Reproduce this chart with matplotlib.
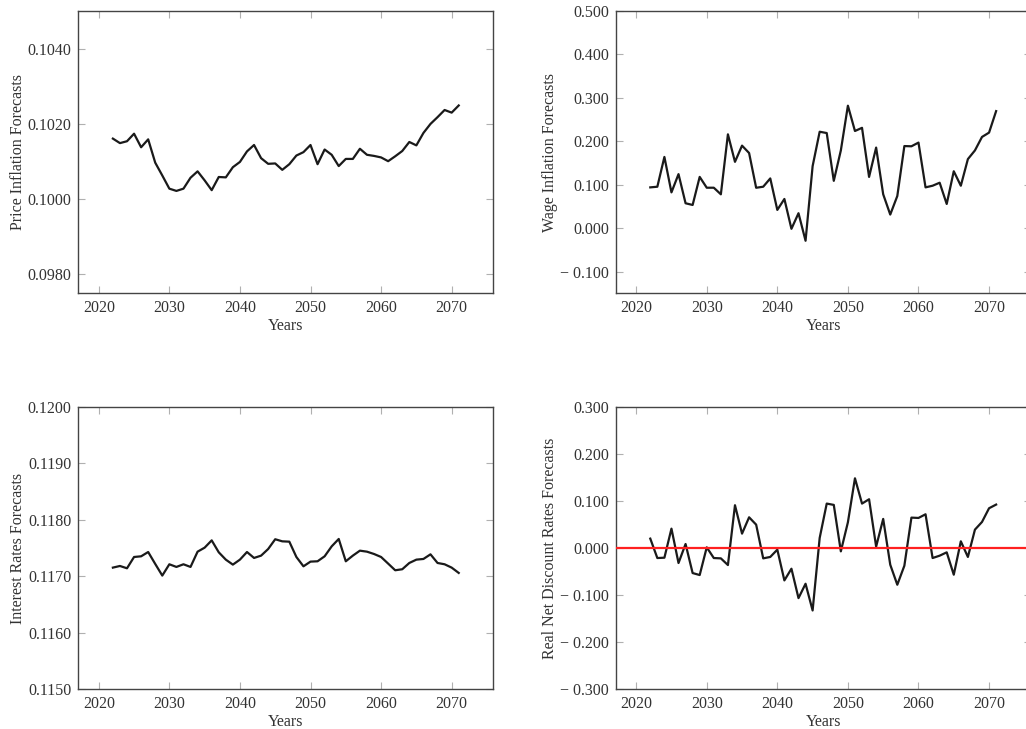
import matplotlib
matplotlib.use("Agg")
import matplotlib.pyplot as plt
from matplotlib.ticker import FuncFormatter

plt.rcParams['font.family'] = ['Liberation Serif', 'DejaVu Serif']
plt.rcParams['font.size'] = 11.5

# forecast years
years = list(range(2022, 2072))

price_inflation = [
    0.10161, 0.10149, 0.10154, 0.10174, 0.10138, 0.10159, 0.10097, 0.10063, 0.10028, 0.10022,
    0.10028, 0.10057, 0.10074, 0.10050, 0.10024, 0.10059, 0.10058, 0.10085, 0.10099, 0.10127,
    0.10144, 0.10109, 0.10094, 0.10095, 0.10078, 0.10093, 0.10116, 0.10125, 0.10144, 0.10093,
    0.10132, 0.10118, 0.10088, 0.10107, 0.10107, 0.10134, 0.10118, 0.10115, 0.10111, 0.10101,
    0.10114, 0.10128, 0.10152, 0.10143, 0.10176, 0.10200, 0.10218, 0.10237, 0.10230, 0.10249,
]

wage_inflation = [
    0.0939, 0.0954, 0.1640, 0.0824, 0.1244, 0.0573, 0.0534, 0.1180, 0.0931, 0.0931,
    0.0779, 0.2160, 0.1527, 0.1900, 0.1730, 0.0930, 0.0954, 0.1145, 0.0420, 0.0672,
    -0.0015, 0.0344, -0.0290, 0.1427, 0.2220, 0.2190, 0.1090, 0.1790, 0.2820, 0.2237,
    0.2310, 0.1180, 0.1855, 0.0780, 0.0313, 0.0740, 0.1890, 0.1885, 0.1970, 0.0939,
    0.0977, 0.1046, 0.0557, 0.1310, 0.0977, 0.1590, 0.1790, 0.2100, 0.2200, 0.2695,
]

interest_rates = [
    0.117153, 0.117182, 0.117141, 0.117341, 0.117353, 0.117429, 0.117218, 0.117012, 0.117212, 0.117165,
    0.117212, 0.117165, 0.117435, 0.117506, 0.117635, 0.117424, 0.117294, 0.117206, 0.117294, 0.117429,
    0.117324, 0.117365, 0.117482, 0.117655, 0.117618, 0.117612, 0.117341, 0.117176, 0.117259, 0.117265,
    0.117353, 0.117529, 0.117660, 0.117265, 0.117365, 0.117453, 0.117435, 0.117394, 0.117341, 0.117224,
    0.117106, 0.117124, 0.117235, 0.117294, 0.117306, 0.117388, 0.117235, 0.117212, 0.117153, 0.117059,
]

real_net_discount = [
    0.0199, -0.0213, -0.0206, 0.0411, -0.0319, 0.0085, -0.0532, -0.0574, 0.0014, -0.0213,
    -0.0220, -0.0362, 0.0908, 0.0305, 0.0652, 0.0496, -0.0220, -0.0190, -0.0035, -0.0688,
    -0.0440, -0.1064, -0.0759, -0.1326, 0.0213, 0.0943, 0.0915, -0.0071, 0.0546, 0.1480,
    0.0943, 0.1035, 0.0030, 0.0617, -0.0355, -0.0780, -0.0376, 0.0645, 0.0638, 0.0716,
    -0.0213, -0.0163, -0.0092, -0.0567, 0.0142, -0.0190, 0.0390, 0.0553, 0.0844, 0.0922,
]

xticks = [2020, 2030, 2040, 2050, 2060, 2070]


def make_fmt(dec):
    # pgfplots style: minus sign with a space before the number
    def f(v, pos):
        if abs(v) < 1e-12:
            v = 0.0
        if v < 0:
            return "\u2212 " + f"{abs(v):.{dec}f}"
        return f"{v:.{dec}f}"
    return FuncFormatter(f)


fig = plt.figure(figsize=(10.26, 7.29), dpi=100)
W, H = 1026.0, 729.0


def add_ax(left, top, right, bottom):
    return fig.add_axes([left / W, 1 - bottom / H, (right - left) / W, (bottom - top) / H])


ax1 = add_ax(78.3, 11, 493.3, 293.3)
ax2 = add_ax(615.7, 11, 1030.7, 293.3)
ax3 = add_ax(78.3, 406.7, 493.3, 689.3)
ax4 = add_ax(615.7, 406.7, 1030.7, 689.3)

panels = [
    (ax1, price_inflation, "Price Inflation Forecasts", (0.0975, 0.105),
     [0.098, 0.100, 0.102, 0.104], 4),
    (ax2, wage_inflation, "Wage Inflation Forecasts", (-0.15, 0.5),
     [-0.1, 0.0, 0.1, 0.2, 0.3, 0.4, 0.5], 3),
    (ax3, interest_rates, "Interest Rates Forecasts", (0.115, 0.120),
     [0.115, 0.116, 0.117, 0.118, 0.119, 0.120], 4),
    (ax4, real_net_discount, "Real Net Discount Rates Forecasts", (-0.3, 0.3),
     [-0.3, -0.2, -0.1, 0.0, 0.1, 0.2, 0.3], 3),
]

for ax, vals, ylab, ylim, yt, dec in panels:
    ax.plot(years, vals, color='#1a1a1a', lw=1.6, zorder=3)
    ax.set_xlim(2017.1, 2075.9)
    ax.set_ylim(*ylim)
    ax.set_xticks(xticks)
    ax.set_yticks(yt)
    ax.yaxis.set_major_formatter(make_fmt(dec))
    ax.tick_params(direction='in', length=5, width=0.8, color='#b0b0b0',
                   labelcolor='#333333', top=True, right=True, pad=5)
    for s in ax.spines.values():
        s.set_color('#444444')
        s.set_linewidth(1.0)
    ax.set_xlabel("Years", color='#333333', labelpad=1)
    ax.set_ylabel(ylab, color='#333333', labelpad=1)

ax4.axhline(0, color='#ff2020', lw=1.6, zorder=4)

fig.savefig("out.png", dpi=100)
